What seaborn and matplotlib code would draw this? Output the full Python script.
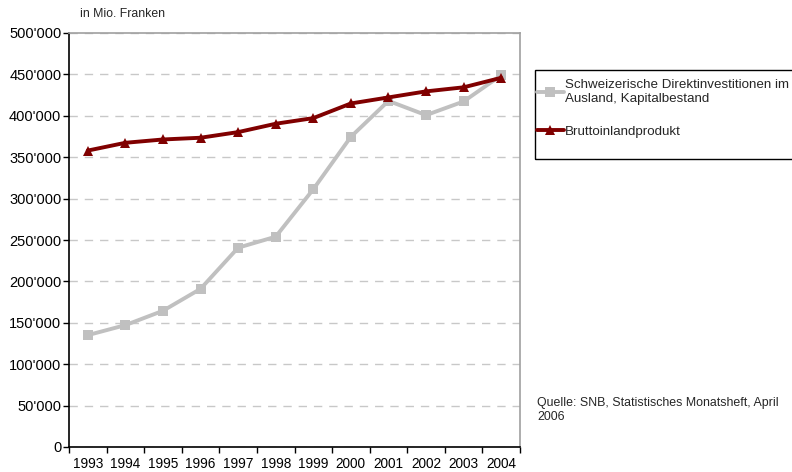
import matplotlib
matplotlib.use("Agg")
import matplotlib.pyplot as plt
import matplotlib.ticker as mticker
from matplotlib.lines import Line2D
from matplotlib.patches import Rectangle
import seaborn as sns
import pandas as pd
import numpy as np

years = ["1993", "1994", "1995", "1996", "1997", "1998",
         "1999", "2000", "2001", "2002", "2003", "2004"]
direktinvestitionen = [135100, 147200, 164500, 191000, 240700, 254000,
                       311300, 374600, 418000, 400800, 417300, 449000]
bip = [358000, 367400, 371400, 373500, 380300, 390400,
       397200, 414900, 422200, 429500, 434400, 445900]
series_names = ["Schweizerische Direktinvestitionen im\nAusland, Kapitalbestand",
                "Bruttoinlandprodukt"]
y_ticks = [0, 50000, 100000, 150000, 200000, 250000, 300000, 350000, 400000, 450000, 500000]

sns.set_theme(style="white")
plt.rcParams["font.family"] = ["Liberation Sans", "DejaVu Sans"]

df = pd.DataFrame({
    "pos": list(range(len(years))) * 2,
    "value": direktinvestitionen + bip,
    "series": [series_names[0]] * len(years) + [series_names[1]] * len(years),
})

fig = plt.figure(figsize=(7.92, 4.72), dpi=100)
ax = fig.add_axes([69 / 792, 1 - 447 / 472, (520 - 69) / 792, (447 - 33) / 472])

gray = "#c0c0c0"
red = "#800000"
palette = {series_names[0]: gray, series_names[1]: red}
sns.lineplot(data=df, x="pos", y="value", hue="series", style="series",
             palette=palette, markers={series_names[0]: "s", series_names[1]: "^"},
             dashes=False, linewidth=2.8, markersize=7, markeredgewidth=0,
             ax=ax, legend=False)

ax.set_xlim(-0.5, len(years) - 0.5)
ax.set_ylim(0, 500000)
ax.set_xlabel("")
ax.set_ylabel("")

# x ticks at category boundaries, labels centered
ax.set_xticks(np.arange(-0.5, len(years), 1.0))
ax.set_xticklabels([])
ax.set_xticks(np.arange(len(years)), minor=True)
ax.set_xticklabels(years, minor=True)
ax.tick_params(axis="x", which="major", direction="out", length=4, width=1, color="black", bottom=True)
ax.tick_params(axis="x", which="minor", length=0, labelsize=9.8, pad=7, colors="black")

ax.set_yticks(y_ticks)
ax.yaxis.set_major_formatter(mticker.FuncFormatter(
    lambda v, p: "0" if v == 0 else f"{int(v):,}".replace(",", "'")))
ax.tick_params(axis="y", direction="out", length=4, width=1, color="black", left=True,
               labelsize=10.5, pad=1.5, colors="black")

ax.yaxis.grid(True, linestyle=(0, (6, 5)), color="#c8c8c8", linewidth=1)
ax.set_axisbelow(True)

for s in ["left", "bottom"]:
    ax.spines[s].set_color("black")
    ax.spines[s].set_linewidth(1.2)
for s in ["top", "right"]:
    ax.spines[s].set_color("#a0a0a0")
    ax.spines[s].set_linewidth(1.2)

fig.text(80 / 792, 1 - 14 / 472, "in Mio. Franken", fontsize=8.8, va="center", ha="left")

# legend frame
fig.patches.append(Rectangle((535 / 792, 1 - 159 / 472), (820 - 535) / 792, (159 - 70) / 472,
                             transform=fig.transFigure, fill=False, edgecolor="black",
                             linewidth=1, clip_on=False))
handles = [
    Line2D([], [], color=gray, marker="s", linewidth=2.8, markersize=7, markeredgewidth=0),
    Line2D([], [], color=red, marker="^", linewidth=2.8, markersize=7, markeredgewidth=0),
]
leg = fig.legend(handles, series_names, loc="upper left",
                 bbox_to_anchor=(535 / 792, 1 - 77 / 472), frameon=False,
                 fontsize=9.6, handlelength=2.0, handletextpad=0.1, labelspacing=1.55,
                 borderpad=0.15, borderaxespad=0)

fig.text(537 / 792, 1 - 410 / 472, "Quelle: SNB, Statistisches Monatsheft, April\n2006",
         fontsize=8.9, va="center", ha="left", linespacing=1.15)

fig.savefig("out.png", dpi=100)
